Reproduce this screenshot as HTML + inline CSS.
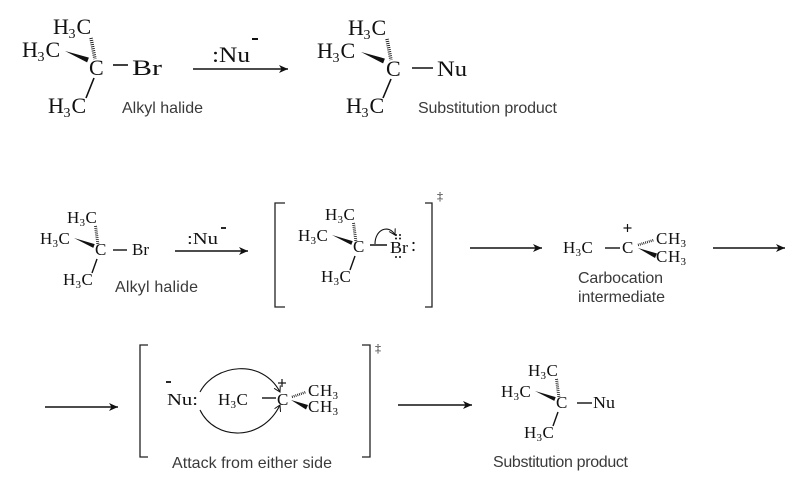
<!DOCTYPE html>
<html><head><meta charset="utf-8"><style>
html,body{margin:0;padding:0;background:#fff;}
svg{display:block;}
.c{font-family:"Liberation Serif",serif;fill:#111;}
.s{font-family:"Liberation Sans",sans-serif;fill:#3a3a3a;font-size:16px;}
</style></head><body>
<svg width="800" height="485" viewBox="0 0 800 485" xmlns="http://www.w3.org/2000/svg">
<defs>
<marker id="ah" markerWidth="10" markerHeight="8" refX="9" refY="4" orient="auto" markerUnits="userSpaceOnUse"><path d="M0,0 L9,4 L0,8 L2.5,4z" fill="#111"/></marker>
<marker id="ah2" markerWidth="8" markerHeight="8" refX="6" refY="3.5" orient="auto" markerUnits="userSpaceOnUse"><path d="M0,0 L6,3.5 L0,7" fill="none" stroke="#111" stroke-width="1"/></marker>
</defs>

<!-- ===== Top row, molecule 1 ===== -->
<g class="c" font-size="22">
<text y="34"><tspan x="53">H</tspan><tspan x="68.5" dy="4" font-size="14">3</tspan><tspan x="76.5" dy="-4">C</tspan></text>
<text y="57"><tspan x="22">H</tspan><tspan x="37.5" dy="4" font-size="14">3</tspan><tspan x="45.5" dy="-4">C</tspan></text>
<text x="89" y="75">C</text>
<text x="132" y="75" textLength="30" lengthAdjust="spacingAndGlyphs">Br</text>
<text y="113"><tspan x="48">H</tspan><tspan x="63.5" dy="4" font-size="14">3</tspan><tspan x="71.5" dy="-4">C</tspan></text>
</g>
<polygon points="65,51 88.9,57.6 87.1,62.4" fill="#111"/>
<line x1="91" y1="38" x2="95" y2="59" stroke="#111" stroke-width="3.5" stroke-dasharray="0.9 1.2"/>
<line x1="94" y1="78" x2="86" y2="98" stroke="#111" stroke-width="1.6"/>
<line x1="113" y1="65" x2="128" y2="65" stroke="#111" stroke-width="1.6"/>
<text class="s" x="122" y="113" textLength="81">Alkyl halide</text>

<!-- top arrow -->
<line x1="193" y1="69" x2="288" y2="69" stroke="#111" stroke-width="1.6" marker-end="url(#ah)"/>
<text class="c" x="212" y="62" font-size="22" textLength="38" lengthAdjust="spacingAndGlyphs">:Nu</text>
<line x1="252" y1="39" x2="258" y2="39" stroke="#111" stroke-width="2"/>

<!-- ===== Top row, molecule 2 ===== -->
<g class="c" font-size="22">
<text y="35"><tspan x="348">H</tspan><tspan x="363.5" dy="4" font-size="14">3</tspan><tspan x="371.5" dy="-4">C</tspan></text>
<text y="58"><tspan x="317">H</tspan><tspan x="332.5" dy="4" font-size="14">3</tspan><tspan x="340.5" dy="-4">C</tspan></text>
<text x="386" y="76">C</text>
<text x="437" y="76" textLength="30" lengthAdjust="spacingAndGlyphs">Nu</text>
<text y="113"><tspan x="346">H</tspan><tspan x="361.5" dy="4" font-size="14">3</tspan><tspan x="369.5" dy="-4">C</tspan></text>
</g>
<polygon points="361,52 384.9,58.6 383.1,63.4" fill="#111"/>
<line x1="387" y1="39" x2="391" y2="60" stroke="#111" stroke-width="3.5" stroke-dasharray="0.9 1.2"/>
<line x1="391" y1="79" x2="383" y2="98" stroke="#111" stroke-width="1.6"/>
<line x1="412" y1="68" x2="433" y2="68" stroke="#111" stroke-width="1.6"/>
<text class="s" x="418" y="113" textLength="139">Substitution product</text>

<!-- ===== Row 2: alkyl halide ===== -->
<g id="core">
<g class="c" font-size="17">
<text y="223"><tspan x="67">H</tspan><tspan x="79.5" dy="3" font-size="11">3</tspan><tspan x="85.5" dy="-3">C</tspan></text>
<text y="244"><tspan x="40">H</tspan><tspan x="52.5" dy="3" font-size="11">3</tspan><tspan x="58.5" dy="-3">C</tspan></text>
<text x="95" y="255">C</text>
<text y="285"><tspan x="63">H</tspan><tspan x="75.5" dy="3" font-size="11">3</tspan><tspan x="81.5" dy="-3">C</tspan></text>
</g>
<polygon points="74,238 94.7,244.1 93.3,247.9" fill="#111"/>
<line x1="95.5" y1="226" x2="98" y2="245" stroke="#111" stroke-width="3" stroke-dasharray="0.8 1.1"/>
<line x1="97" y1="259" x2="92" y2="273" stroke="#111" stroke-width="1.4"/>
</g>
<line x1="113" y1="250" x2="127" y2="250" stroke="#111" stroke-width="1.4"/>
<text class="c" x="132" y="255" font-size="17" textLength="17" lengthAdjust="spacingAndGlyphs">Br</text>
<text class="s" x="115" y="292" textLength="83">Alkyl halide</text>

<line x1="175" y1="251" x2="248" y2="251" stroke="#111" stroke-width="1.5" marker-end="url(#ah)"/>
<text class="c" x="187" y="244" font-size="17" textLength="31" lengthAdjust="spacingAndGlyphs">:Nu</text>
<line x1="221" y1="228" x2="226" y2="228" stroke="#111" stroke-width="1.8"/>

<!-- bracket 1 -->
<path d="M285,203 H275 V307 H285" fill="none" stroke="#222" stroke-width="1.3"/>
<path d="M425,203 H432 V307 H425" fill="none" stroke="#222" stroke-width="1.3"/>
<text class="c" x="437" y="200" font-size="12">‡</text>
<use href="#core" transform="translate(258,-3)"/>
<line x1="370" y1="245" x2="387" y2="245" stroke="#111" stroke-width="1.4"/>
<text class="c" x="390" y="253" font-size="17" textLength="18" lengthAdjust="spacingAndGlyphs">Br</text>
<circle cx="413.5" cy="243" r="1.1" fill="#111"/><circle cx="413.5" cy="250" r="1.1" fill="#111"/>
<circle cx="396" cy="235" r="1" fill="#111"/><circle cx="400" cy="235" r="1" fill="#111"/>
<circle cx="396" cy="238.5" r="1" fill="#111"/><circle cx="400" cy="238.5" r="1" fill="#111"/>
<circle cx="396" cy="257" r="1" fill="#111"/><circle cx="400" cy="257" r="1" fill="#111"/>
<path d="M375,244 C375,229 389,224 395,235" fill="none" stroke="#111" stroke-width="1.1" marker-end="url(#ah2)"/>

<!-- arrow to carbocation -->
<line x1="470" y1="248" x2="542" y2="248" stroke="#111" stroke-width="1.5" marker-end="url(#ah)"/>

<!-- carbocation -->
<g class="c" font-size="17">
<text y="253"><tspan x="563">H</tspan><tspan x="575.5" dy="3" font-size="11">3</tspan><tspan x="581.5" dy="-3">C</tspan></text>
<text x="622" y="253">C</text>
<text y="244"><tspan x="656">C</tspan><tspan x="668">H</tspan><tspan x="680.5" dy="3" font-size="11">3</tspan></text>
<text y="262"><tspan x="656">C</tspan><tspan x="668">H</tspan><tspan x="680.5" dy="3" font-size="11">3</tspan></text>
</g>
<line x1="605" y1="248" x2="620" y2="248" stroke="#111" stroke-width="1.4"/>
<line x1="623.5" y1="228" x2="631.5" y2="228" stroke="#111" stroke-width="1.2"/>
<line x1="627.5" y1="224" x2="627.5" y2="232" stroke="#111" stroke-width="1.2"/>
<line x1="638" y1="245" x2="654" y2="240" stroke="#111" stroke-width="2.5" stroke-dasharray="0.8 1.1"/>
<polygon points="638,248 657,253.5 655,258" fill="#111"/>
<text class="s" x="578" y="283" textLength="85">Carbocation</text>
<text class="s" x="578" y="302" textLength="87">intermediate</text>

<line x1="713" y1="248" x2="785" y2="248" stroke="#111" stroke-width="1.5" marker-end="url(#ah)"/>

<!-- ===== Row 3 ===== -->
<line x1="45" y1="407" x2="118" y2="407" stroke="#111" stroke-width="1.5" marker-end="url(#ah)"/>
<path d="M148,345 H140 V457 H148" fill="none" stroke="#222" stroke-width="1.3"/>
<path d="M362,345 H370 V457 H362" fill="none" stroke="#222" stroke-width="1.3"/>
<text class="c" x="375" y="352" font-size="12">‡</text>

<line x1="166" y1="382" x2="171" y2="382" stroke="#111" stroke-width="1.8"/>
<g class="c" font-size="17">
<text x="167" y="405" textLength="31" lengthAdjust="spacingAndGlyphs">Nu:</text>
<text y="405"><tspan x="218">H</tspan><tspan x="230.5" dy="3" font-size="11">3</tspan><tspan x="236.5" dy="-3">C</tspan></text>
<text x="277" y="405">C</text>
<text y="396"><tspan x="308">C</tspan><tspan x="320">H</tspan><tspan x="332.5" dy="3" font-size="11">3</tspan></text>
<text y="412"><tspan x="308">C</tspan><tspan x="320">H</tspan><tspan x="332.5" dy="3" font-size="11">3</tspan></text>
</g>
<line x1="262" y1="398" x2="276" y2="398" stroke="#111" stroke-width="1.4"/>
<line x1="278" y1="383" x2="286" y2="383" stroke="#111" stroke-width="1.2"/>
<line x1="282" y1="379" x2="282" y2="387" stroke="#111" stroke-width="1.2"/>
<line x1="292" y1="397" x2="306" y2="392" stroke="#111" stroke-width="2.5" stroke-dasharray="0.8 1.1"/>
<polygon points="291,400 308,405 306,409.5" fill="#111"/>
<path d="M200,392 C215,364 262,358 280,392" fill="none" stroke="#111" stroke-width="1.1" marker-end="url(#ah2)"/>
<path d="M200,410 C215,441 262,442 280,405" fill="none" stroke="#111" stroke-width="1.1" marker-end="url(#ah2)"/>
<text class="s" x="172" y="468" textLength="160">Attack from either side</text>

<line x1="398" y1="405" x2="472" y2="405" stroke="#111" stroke-width="1.5" marker-end="url(#ah)"/>

<!-- final product -->
<use href="#core" transform="translate(461,153)"/>
<line x1="577" y1="403" x2="592" y2="403" stroke="#111" stroke-width="1.4"/>
<text class="c" x="593" y="408" font-size="17" textLength="22" lengthAdjust="spacingAndGlyphs">Nu</text>
<text class="s" x="493" y="467" textLength="135">Substitution product</text>
</svg>
</body></html>
